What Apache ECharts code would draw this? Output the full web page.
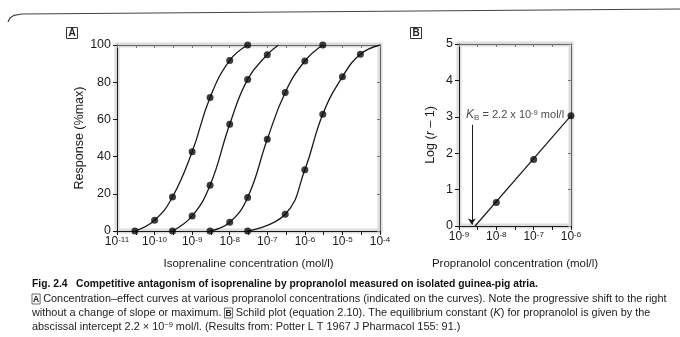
<!DOCTYPE html>
<html>
<head>
<meta charset="utf-8">
<script src="https://cdn.jsdelivr.net/npm/echarts@6/dist/echarts.min.js"></script>
<style>
  html, body { margin: 0; padding: 0; background: #fff; }
  #chart { width: 680px; height: 337px; }
</style>
</head>
<body>
<div id="chart"></div>
<script>
// panel A: isoprenaline concentration-effect curves (4 propranolol levels)
const concA1 = [3e-11, 1e-10, 3e-10, 1e-9, 3e-9, 1e-8, 3e-8];
const respA1 = [0, 5.8, 18.3, 42.6, 71.8, 91.7, 100];
const concA2 = [3e-10, 1e-9, 3e-9, 1e-8, 3e-8, 1e-7];
const respA2 = [0, 8.1, 24.6, 57.4, 81.5, 94.8];
const concA3 = [3e-9, 1e-8, 3e-8, 1e-7, 3e-7, 1e-6, 3e-6];
const respA3 = [0, 4.7, 18, 49.3, 74.5, 91.4, 100];
const concA4 = [3e-8, 3e-7, 1e-6, 3e-6, 1e-5, 3e-5];
const respA4 = [0, 9, 32.9, 62.8, 82.9, 95];
// where the fitted curves run into the 100% line beyond the last point
const curveEndA = [null, [2e-7, 100], null, [1e-4, 100]];

// panel B: Schild plot
const concB = [1e-8, 1e-7, 1e-6];
const logRB = [0.645, 1.83, 3.03];
const fitStartB = [2.7e-9, 0];
const kB = 2.2e-9;

const decadesA = [-11, -10, -9, -8, -7, -6, -5, -4];
const decadesB = [-9, -8, -7, -6];

const FONT = "Liberation Sans, Arial, sans-serif";
const INK = "#1a1a1a";

function pow10(list) { return list.map(e => Math.pow(10, e)); }
function withHalves(list) {
  const out = [];
  list.forEach((e, i) => { out.push(Math.pow(10, e)); if (i < list.length - 1) out.push(Math.pow(10, e + 0.5)); });
  return out;
}
function expLabel(v) { return "10{sup|" + Math.round(Math.log10(v)) + "}"; }

const supRich = {
  sup: { fontSize: 8, verticalAlign: "top", lineHeight: 10, color: INK, fontFamily: FONT, padding: [0, 0, 6, 0] }
};

function logAxis(grid, decs, bottom) {
  return {
    type: "log", logBase: 10, gridIndex: grid,
    min: Math.pow(10, decs[0]), max: Math.pow(10, decs[decs.length - 1]),
    position: bottom ? "bottom" : "top",
    axisLine: { show: true, onZero: false, lineStyle: { color: bottom ? INK : "#666", width: 1 } },
    axisTick: { show: true, inside: !bottom, length: bottom ? 4 : 3, customValues: withHalves(decs),
                lineStyle: { color: bottom ? INK : "#777" } },
    axisLabel: bottom ? { show: true, customValues: pow10(decs), formatter: expLabel, color: INK,
                          fontFamily: FONT, fontSize: 12, margin: 5, rich: supRich } : { show: false },
    splitLine: { show: false }
  };
}
function valAxis(grid, max, interval, left) {
  return {
    type: "value", gridIndex: grid, min: 0, max: max, interval: interval,
    position: left ? "left" : "right",
    axisLine: { show: true, onZero: false, lineStyle: { color: left ? INK : "#666", width: 1 } },
    axisTick: { show: true, inside: !left, length: left ? 4 : 3, lineStyle: { color: left ? INK : "#777" } },
    axisLabel: left ? { show: true, color: INK, fontFamily: FONT, fontSize: 12.5, margin: 6 } : { show: false },
    splitLine: { show: false }
  };
}

const xA = logAxis(0, decadesA, true);
xA.name = "Isoprenaline concentration (mol/l)";
xA.nameLocation = "middle"; xA.nameGap = 27;
xA.nameTextStyle = { color: INK, fontFamily: FONT, fontSize: 11.5 };
const xB = logAxis(1, decadesB, true);
xB.name = "Propranolol concentration (mol/l)";
xB.nameLocation = "middle"; xB.nameGap = 32;
xB.nameTextStyle = { color: INK, fontFamily: FONT, fontSize: 11.5 };

const yA = valAxis(0, 100, 20, true);
yA.name = "Response (%max)";
yA.nameLocation = "middle"; yA.nameGap = 31;
yA.nameTextStyle = { color: INK, fontFamily: FONT, fontSize: 12.5 };
const yB = valAxis(1, 5, 1, true);
yB.name = "Log ({i|r} \u2013 1)";
yB.nameLocation = "middle"; yB.nameGap = 22;
yB.nameTextStyle = { color: INK, fontFamily: FONT, fontSize: 12.5,
  rich: { i: { fontStyle: "italic", fontSize: 12.5, fontFamily: FONT, color: INK } } };

const curvesA = [[concA1, respA1], [concA2, respA2], [concA3, respA3], [concA4, respA4]];
const series = [];
curvesA.forEach((c, i) => {
  const pts = c[0].map((x, j) => [x, c[1][j]]);
  const path = curveEndA[i] ? pts.concat([curveEndA[i]]) : pts;
  series.push({
    type: "line", xAxisIndex: 0, yAxisIndex: 0, data: path, smooth: 0.45,
    showSymbol: false, lineStyle: { color: INK, width: 1.3 }, silent: true, z: 3
  });
  series.push({
    type: "scatter", xAxisIndex: 0, yAxisIndex: 0, data: pts, symbol: "circle",
    symbolSize: 7, itemStyle: { color: "#0d0d0d" }, silent: true, z: 4
  });
});

const schildPts = concB.map((x, j) => [x, logRB[j]]);
series.push({
  type: "line", xAxisIndex: 2, yAxisIndex: 2,
  data: [fitStartB, schildPts[schildPts.length - 1]],
  showSymbol: false, lineStyle: { color: INK, width: 1.2 }, silent: true, z: 3,
  markLine: {
    silent: true, symbol: ["none", "arrow"], symbolSize: 6,
    label: { show: false },
    lineStyle: { color: INK, width: 1, type: "solid" },
    data: [[{ coord: [kB, 2.78] }, { coord: [kB, 0.04] }]]
  }
});
series.push({
  type: "scatter", xAxisIndex: 2, yAxisIndex: 2, data: schildPts,
  symbol: "circle", symbolSize: 7, itemStyle: { color: "#0d0d0d" }, silent: true, z: 4
});
series.push({
  type: "scatter", xAxisIndex: 2, yAxisIndex: 2, data: [[1.55e-9, 3.05]],
  symbolSize: 0, silent: true, z: 5,
  label: {
    show: true, position: "right", distance: 0, color: INK, fontFamily: FONT, fontSize: 11,
    formatter: "{k|K}{sub|B} = 2.2 x 10{sup|-9} mol/l",
    rich: {
      k: { fontStyle: "italic", fontSize: 12, fontFamily: FONT, color: INK },
      sub: { fontSize: 8, verticalAlign: "bottom", padding: [5, 0, 0, 0], fontFamily: FONT, color: INK },
      sup: { fontSize: 7.5, verticalAlign: "top", padding: [0, 0, 5, 0], fontFamily: FONT, color: INK }
    }
  }
});

const capStyle = { fontFamily: FONT, fontSize: 10.9, fill: "#222" };
const boxRich = { bx: { borderColor: "#444", borderWidth: 0.8, padding: [1, 1, 0, 1], fontSize: 8.5, fontWeight: "bold", fontFamily: FONT } };

const option = {
  backgroundColor: "#fff",
  animation: false,
  grid: [
    { left: 117, right: 300, top: 45, bottom: 106, show: true, borderColor: "#dcdcdc", borderWidth: 5, backgroundColor: "transparent" },
    { left: 459, right: 109, top: 44, bottom: 111, show: true, borderColor: "#dcdcdc", borderWidth: 5, backgroundColor: "transparent" }
  ],
  xAxis: [xA, logAxis(0, decadesA, false), xB, logAxis(1, decadesB, false)],
  yAxis: [yA, valAxis(0, 100, 20, false), yB, valAxis(1, 5, 1, false)],
  graphic: [
    { type: "polyline", shape: { points: [[8, 22], [10, 18], [14, 15.3], [22, 14], [680, 9]] },
      style: { fill: null, stroke: "#444", lineWidth: 1.2 } },
    { type: "rect", shape: { x: 66.5, y: 27.5, width: 11, height: 11 }, style: { fill: "none", stroke: "#333", lineWidth: 1 } },
    { type: "text", x: 72, y: 33.5, style: { text: "A", fontFamily: FONT, fontSize: 10, fontWeight: "bold", fill: "#222", align: "center", verticalAlign: "middle" } },
    { type: "rect", shape: { x: 410.5, y: 27.5, width: 11, height: 11 }, style: { fill: "none", stroke: "#333", lineWidth: 1 } },
    { type: "text", x: 416, y: 33.5, style: { text: "B", fontFamily: FONT, fontSize: 10, fontWeight: "bold", fill: "#222", align: "center", verticalAlign: "middle" } },
    { type: "text", x: 32, y: 284, style: Object.assign({}, capStyle, { verticalAlign: "middle", fontWeight: "bold", fill: "#111", fontSize: 10.3,
      text: "Fig. 2.4   Competitive antagonism of isoprenaline by propranolol measured on isolated guinea-pig atria." }) },
    { type: "text", x: 32, y: 299, style: Object.assign({}, capStyle, { verticalAlign: "middle", rich: boxRich,
      text: "{bx|A} Concentration\u2013effect curves at various propranolol concentrations (indicated on the curves). Note the progressive shift to the right" }) },
    { type: "text", x: 32, y: 313, style: Object.assign({}, capStyle, { verticalAlign: "middle",
      rich: Object.assign({ it: { fontStyle: "italic", fontFamily: FONT, fontSize: 10.9 } }, boxRich),
      text: "without a change of slope or maximum. {bx|B} Schild plot (equation 2.10). The equilibrium constant ({it|K}) for propranolol is given by the" }) },
    { type: "text", x: 32, y: 327, style: Object.assign({}, capStyle, { verticalAlign: "middle",
      rich: { sp: { fontSize: 7.5, verticalAlign: "top", padding: [0, 0, 5, 0], fontFamily: FONT } },
      text: "abscissal intercept 2.2 \u00d7 10{sp|\u22129} mol/l. (Results from: Potter L T 1967 J Pharmacol 155: 91.)" }) }
  ],
  series: series
};

const chart = echarts.init(document.getElementById("chart"), null, { renderer: "canvas" });
chart.setOption(option);
</script>
</body>
</html>
